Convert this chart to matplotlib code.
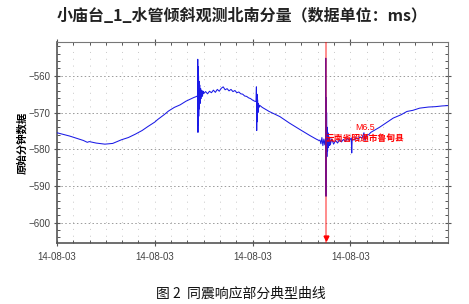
import matplotlib
matplotlib.use("Agg")
import matplotlib.pyplot as plt
from matplotlib.ticker import MultipleLocator, FixedLocator

plt.rcParams['font.family'] = ['Noto Sans CJK SC', 'DejaVu Sans']

title = "小庙台_1_水管倾斜观测北南分量（数据单位：ms）"
ylabel = "原始分钟数据"
caption = "图 2  同震响应部分典型曲线"
quake_mag = "M6.5"
quake_place = "云南省昭通市鲁甸县"
quake_t = 2.75

xtick_pos = [0, 1, 2, 3]
xtick_labels = ["14-08-03", "14-08-03", "14-08-03", "14-08-03"]
ytick_vals = [-560, -570, -580, -590, -600]

t = [0.00, 0.07, 0.13, 0.20, 0.27, 0.31, 0.33, 0.40, 0.49, 0.57, 0.66, 0.73, 0.80, 0.87, 0.93,
     1.00, 1.03, 1.10, 1.14, 1.20, 1.26, 1.32, 1.36, 1.40, 1.43,
     1.438, 1.440, 1.442, 1.444, 1.446, 1.448, 1.450, 1.453, 1.456, 1.460, 1.465, 1.470, 1.476,
     1.482, 1.488, 1.495,
     1.50, 1.52, 1.54, 1.56, 1.58, 1.60, 1.62, 1.64, 1.66, 1.68, 1.70, 1.72, 1.74, 1.76, 1.78,
     1.80, 1.82, 1.84, 1.86, 1.88, 1.90, 1.92, 1.94, 1.96, 1.98, 2.00, 2.02,
     2.036, 2.040, 2.043, 2.046, 2.049, 2.052, 2.056, 2.060, 2.066, 2.072,
     2.10, 2.17, 2.28, 2.38, 2.49, 2.59, 2.65, 2.68,
     2.690, 2.700, 2.710, 2.720, 2.730, 2.740,
     2.748, 2.750, 2.752, 2.754, 2.756, 2.758, 2.761, 2.764, 2.768, 2.772, 2.776, 2.780, 2.785,
     2.790, 2.796,
     2.81, 2.83, 2.85, 2.87, 2.89, 2.91, 2.93, 2.95, 2.97, 2.99, 3.01, 3.015, 3.02, 3.04, 3.06,
     3.08, 3.10, 3.12, 3.14, 3.15, 3.17, 3.19, 3.21,
     3.30, 3.44, 3.52, 3.58, 3.64, 3.71, 3.80, 3.87, 3.94, 4.00]

v = [-575.5, -576.0, -576.4, -577.0, -577.6, -578.1, -577.9, -578.3, -578.6, -578.4, -577.4,
     -576.8, -575.9, -574.9, -573.8,
     -572.6, -571.9, -570.5, -569.6, -568.6, -567.9, -566.9, -566.4, -565.9, -565.6,
     -565.4, -555.5, -575.4, -557.5, -573.5, -560.0, -571.0, -561.5, -569.0, -562.5, -567.5,
     -563.5, -566.2, -564.0, -565.6, -564.2,
     -564.8, -564.3, -564.9, -564.2, -564.6, -563.9, -564.5, -563.7, -564.2, -563.4, -563.0,
     -563.8, -563.5, -564.1, -563.7, -564.3, -564.0, -564.6, -564.4, -564.9, -565.0, -565.5,
     -565.6, -566.0, -566.2, -566.6, -566.9,
     -567.0, -563.0, -574.9, -565.0, -572.5, -566.5, -570.0, -567.5, -568.6, -568.0,
     -568.6, -569.7, -571.1, -572.9, -574.7, -576.3, -577.2, -577.6,
     -577.5, -578.5, -576.8, -579.0, -577.2, -578.8,
     -577.0, -555.2, -592.8, -566.0, -585.0, -570.0, -582.0, -574.0, -580.5, -575.5, -579.5,
     -576.5, -579.0, -577.0, -578.8,
     -577.2, -578.6, -577.6, -578.3, -577.4, -578.0, -577.3, -577.9, -577.0, -577.6, -576.9,
     -581.0, -577.2, -577.5, -576.8, -577.3, -576.6, -577.0, -575.5, -577.6, -576.2, -576.0,
     -575.4,
     -574.0, -571.5, -570.6, -569.7, -569.4, -568.8, -568.5, -568.4, -568.2, -568.1]

W, H = 469, 304
fig = plt.figure(figsize=(W / 100, H / 100), dpi=100)
ax = fig.add_axes([57 / W, (H - 243) / H, (448 - 57) / W, (243 - 42) / H])

ax.plot(t, v, color="#1a1ae6", lw=0.75, zorder=3)
ax.axvline(quake_t, color="red", alpha=0.45, lw=1.4, zorder=4)
ax.plot([quake_t], [-604.2], marker="v", color="red", markersize=3.5, zorder=5, clip_on=False)
ax.text(3.15, -574.0, quake_mag, color="red", fontsize=6.3, ha="center",
        va="center", zorder=6, family=["Liberation Sans", "DejaVu Sans"])
ax.text(3.155, -576.9, quake_place, color="red", fontsize=6.3, fontweight="bold",
        ha="center", va="center", zorder=6)

ax.set_xlim(0, 4.0)
ax.set_ylim(-605.5, -550.8)

ax.xaxis.set_major_locator(FixedLocator(xtick_pos))
ax.set_xticklabels(xtick_labels)
ax.xaxis.set_minor_locator(MultipleLocator(1 / 6))
ax.yaxis.set_major_locator(FixedLocator(ytick_vals))
ax.yaxis.set_minor_locator(MultipleLocator(2))

ax.tick_params(axis="both", which="major", direction="inout", length=5, width=0.8,
               color="#555555", labelsize=7, labelcolor="#444444", top=True, right=True)
ax.tick_params(axis="both", which="minor", direction="in", length=2.5, width=0.7,
               color="#555555", top=True, right=True)
ax.tick_params(axis="x", which="major", pad=4)
ax.tick_params(axis="y", which="major", pad=2)
for lab in ax.get_xticklabels() + ax.get_yticklabels():
    lab.set_fontfamily(["Liberation Sans", "DejaVu Sans"])

ax.grid(True, axis="y", which="major", linestyle=(0, (1.5, 2.5)), color="#999999", lw=0.7)
ax.grid(True, axis="x", which="minor", linestyle=(0, (1, 6)), color="#c8c8c8", lw=0.7)
ax.grid(True, axis="x", which="major", linestyle=(0, (1, 6)), color="#c8c8c8", lw=0.7)

for side in ["left", "bottom"]:
    ax.spines[side].set_color("#555555")
    ax.spines[side].set_linewidth(1.2)
for side in ["top", "right"]:
    ax.spines[side].set_color("#777777")
    ax.spines[side].set_linewidth(0.8)

ax.set_ylabel(ylabel, fontsize=7.5, fontweight="bold", labelpad=1)

fig.text(242 / W, 1 - 16 / H, title, fontsize=11.5, fontweight="bold", ha="center",
         va="center", color="#222222")
fig.text(241 / W, 1 - 294 / H, caption, fontsize=10, ha="center", va="center",
         color="#111111")

fig.savefig("out.png", dpi=100)
